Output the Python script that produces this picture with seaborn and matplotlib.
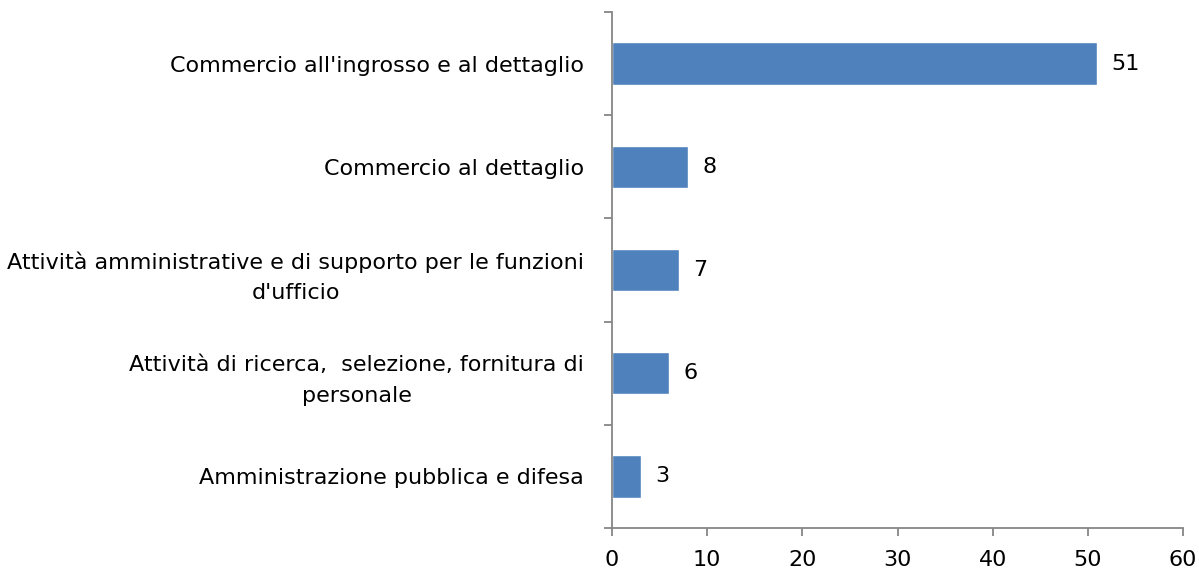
import numpy as np
import pandas as pd
import seaborn as sns
import matplotlib.pyplot as plt

categorie = [
    "Commercio all'ingrosso e al dettaglio",
    "Commercio al dettaglio",
    "Attività amministrative e di supporto per le funzioni\nd'ufficio",
    "Attività di ricerca,  selezione, fornitura di\npersonale",
    "Amministrazione pubblica e difesa",
]
valori = [51, 8, 7, 6, 3]
x_ticks = [0, 10, 20, 30, 40, 50, 60]

df = pd.DataFrame({"settore": categorie, "valore": valori})

sns.set_style("white")
plt.rcParams['font.family'] = ['DejaVu Sans']

fig = plt.figure(figsize=(11.99, 5.70), dpi=100)
ax = fig.add_axes([0.5104, 0.0737, 0.4763, 0.9053])

sns.barplot(data=df, x="valore", y="settore", orient="h", color="#4F81BD",
            saturation=1, width=0.41, ax=ax)

# etichette dei valori a destra delle barre
for i, v in enumerate(valori):
    ax.text(v + 1.5, i, str(v), va="center", ha="left", fontsize=16, color="black")

grigio = "#868686"
ax.set_xlim(0, 60)
ax.set_ylim(len(categorie) - 0.5, -0.5)
ax.set_xticks(x_ticks)
ax.set_xlabel("")
ax.set_ylabel("")
for s in ["top", "right"]:
    ax.spines[s].set_visible(False)
for s in ["left", "bottom"]:
    ax.spines[s].set_color(grigio)
    ax.spines[s].set_linewidth(1.3)

# tacche dell'asse y tra le categorie
ax.set_yticks(np.arange(-0.5, len(categorie)), minor=True)
ax.tick_params(axis="y", which="major", length=0, pad=20, labelsize=16, labelcolor="black")
ax.tick_params(axis="y", which="minor", length=6, width=1.3, color=grigio, direction="out", left=True)
ax.tick_params(axis="x", which="major", length=6, width=1.3, color=grigio, direction="out",
               bottom=True, pad=10, labelsize=16, labelcolor="black")
for lab in ax.get_yticklabels():
    lab.set_multialignment("center")
    lab.set_linespacing(1.65)

plt.savefig("out.png", dpi=100)
